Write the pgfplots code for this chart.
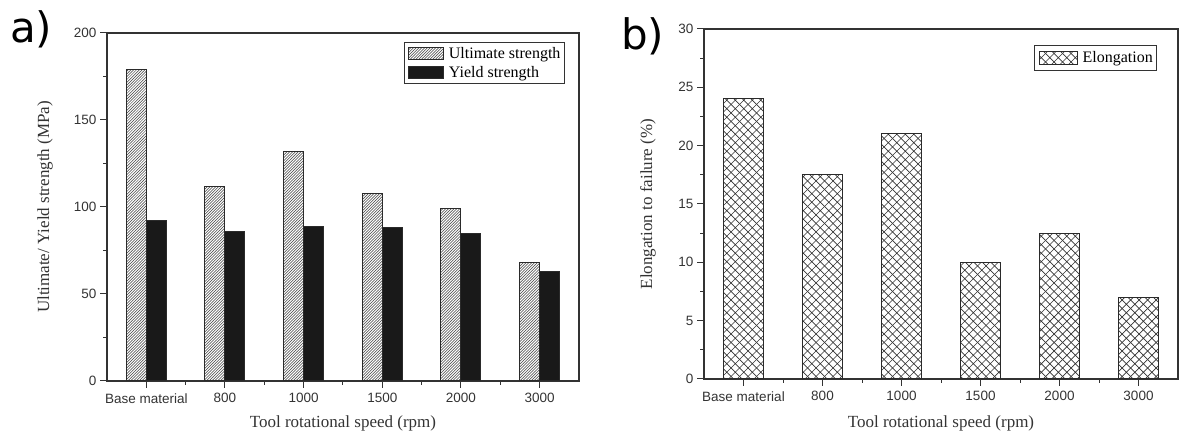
\documentclass[border=0pt]{standalone}
\usepackage{fontspec}
\setmainfont{Liberation Serif}
\newfontfamily\arial{Liberation Sans}
\newfontfamily\dejavu{DejaVu Sans}
\usepackage{pgfplots}
\pgfplotsset{compat=1.18}
\usetikzlibrary{patterns}

\definecolor{axc}{HTML}{333333}
\definecolor{barc}{HTML}{2A2A2A}

\pgfdeclarepatternformonly{finehatch}{\pgfqpoint{-1pt}{-1pt}}{\pgfqpoint{4pt}{4pt}}{\pgfqpoint{2.8pt}{2.8pt}}{%
  \pgfsetlinewidth{0.5pt}%
  \pgfpathmoveto{\pgfqpoint{0pt}{0pt}}%
  \pgfpathlineto{\pgfqpoint{2.9pt}{2.9pt}}%
  \pgfusepath{stroke}}

\pgfdeclarepatternformonly{diagcross}{\pgfqpoint{-1pt}{-1pt}}{\pgfqpoint{9pt}{9pt}}{\pgfqpoint{8.5pt}{8.5pt}}{%
  \pgfsetlinewidth{0.7pt}%
  \pgfpathmoveto{\pgfqpoint{0pt}{0pt}}%
  \pgfpathlineto{\pgfqpoint{8.6pt}{8.6pt}}%
  \pgfpathmoveto{\pgfqpoint{0pt}{8.5pt}}%
  \pgfpathlineto{\pgfqpoint{8.6pt}{-0.1pt}}%
  \pgfusepath{stroke}}

\pgfplotstableread{
x ult yld
0 179 92
1 112 86
2 132 89
3 108 88
4 99 85
5 68 63
}\strengthdata

\pgfplotstableread{
x el
0 24
1 17.5
2 21
3 10
4 12.5
5 7
}\elongdata

\pgfplotsset{
  common/.style={
    scale only axis,
    axis line style={axc, line width=1.1pt},
    every tick/.style={axc, line width=1pt},
    tick align=outside,
    tick pos=left,
    major tick length=7pt,
    minor tick length=4pt,
    xmin=-0.5, xmax=5.5,
    xtick={0,1,2,3,4,5},
    minor x tick num=1,
    xticklabels={Base material,800,1000,1500,2000,3000},
    ticklabel style={font=\arial\fontsize{13.5}{15}\selectfont, text=axc},
    xticklabel style={yshift=-2pt},
    /pgf/number format/assume math mode=true,
    label style={font=\fontsize{17}{20}\selectfont, text=axc},
    legend cell align=left,
    legend style={draw=axc, line width=0.8pt, font=\fontsize{16}{19}\selectfont,
      inner xsep=2pt, inner ysep=3pt, row sep=2pt, text=black},
  }
}

\begin{document}
\begin{tikzpicture}
\path (0pt,0pt) rectangle (1179pt,436pt);

\node[anchor=base west, inner sep=0pt, font=\dejavu\fontsize{42}{48}\selectfont] at (10pt,393pt) {a)};
\node[anchor=base west, inner sep=0pt, font=\dejavu\fontsize{42}{48}\selectfont] at (621pt,386pt) {b)};

\begin{axis}[common,
  at={(107pt,55pt)}, anchor=south west,
  width=472pt, height=348pt,
  ymin=0, ymax=200,
  ytick={0,50,100,150,200},
  minor y tick num=1,
  ybar=0pt, bar width=20pt,
  xlabel={Tool rotational speed (rpm)},
  ylabel={Ultimate/ Yield strength (MPa)},
  xlabel style={at={(axis description cs:0.5,-0.121)}, anchor=center},
  ylabel style={at={(axis description cs:-0.131,0.5)}, anchor=center},
  legend style={at={(0.970,0.974)}, anchor=north east},
  legend image code/.code={\path (-2pt,0pt) (38pt,0pt);\draw[#1] (0pt,-6pt) rectangle (35pt,6pt);},
]
\addplot[draw=barc, line width=1pt, pattern=finehatch, pattern color=black!75] table[x=x,y=ult] {\strengthdata};
\addplot[draw=barc, line width=1pt, fill=black!90] table[x=x,y=yld] {\strengthdata};
\legend{Ultimate strength, Yield strength}
\end{axis}

\begin{axis}[common,
  at={(704pt,57pt)}, anchor=south west,
  width=474pt, height=350pt,
  ymin=0, ymax=30,
  ytick={0,5,10,15,20,25,30},
  minor y tick num=1,
  ybar=0pt, bar width=40pt,
  xlabel={Tool rotational speed (rpm)},
  ylabel={Elongation to failure (\%)},
  xlabel style={at={(axis description cs:0.5,-0.126)}, anchor=center},
  ylabel style={at={(axis description cs:-0.118,0.5)}, anchor=center},
  legend style={at={(0.956,0.954)}, anchor=north east, inner ysep=4pt},
  legend image code/.code={\path (-2pt,0pt) (41pt,0pt);\draw[#1] (0pt,-6.5pt) rectangle (38pt,6.5pt);},
]
\addplot[draw=barc, line width=1pt, pattern=diagcross, pattern color=black!80] table[x=x,y=el] {\elongdata};
\legend{Elongation}
\end{axis}
\end{tikzpicture}
\end{document}
